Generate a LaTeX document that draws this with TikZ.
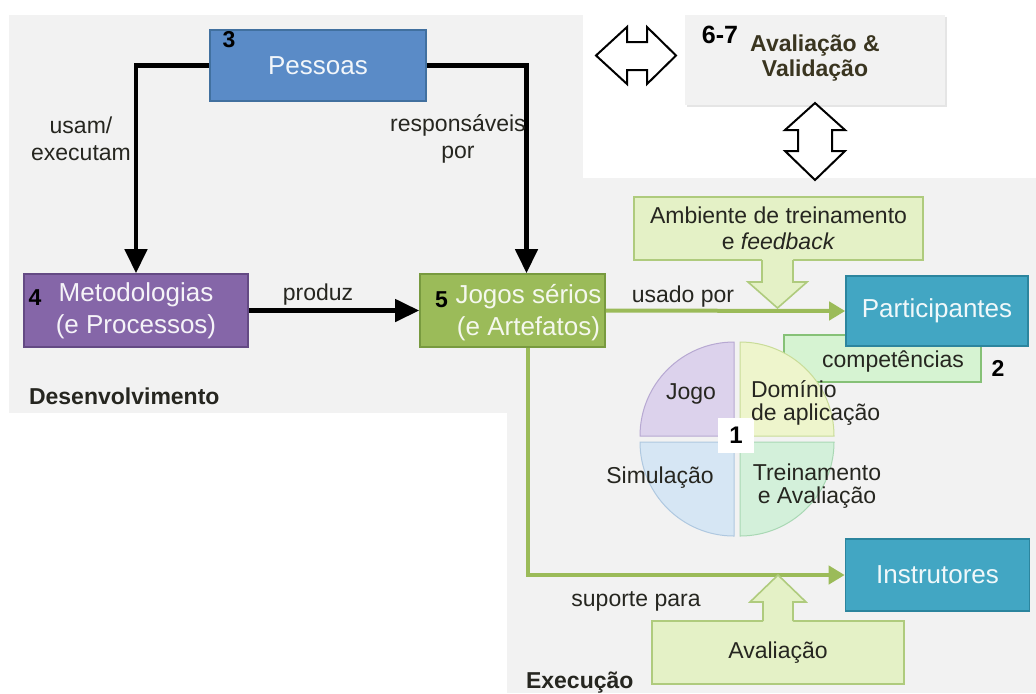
\documentclass[tikz,border=0pt]{standalone}
\usepackage{fontspec}
\setmainfont{Liberation Sans}
\usepackage{tikz}
\usetikzlibrary{positioning,calc,arrows.meta}

\definecolor{bgGray}{HTML}{F2F2F2}
\definecolor{pessBlue}{HTML}{5A8BC7}
\definecolor{pessEdge}{HTML}{41709F}
\definecolor{metPurple}{HTML}{8566A8}
\definecolor{metEdge}{HTML}{644A84}
\definecolor{jogGreen}{HTML}{9BBB59}
\definecolor{jogEdge}{HTML}{789A3F}
\definecolor{partTeal}{HTML}{42A6C3}
\definecolor{partEdge}{HTML}{2C859E}
\definecolor{lightGreen}{HTML}{E4F1C6}
\definecolor{lightEdge}{HTML}{AFCB7D}
\definecolor{compFill}{HTML}{D6F3D2}
\definecolor{compEdge}{HTML}{86C177}
\definecolor{darkText}{HTML}{262620}
\definecolor{oliveText}{HTML}{3A3520}
\definecolor{jogoFill}{HTML}{DCD2EC}
\definecolor{jogoEdge}{HTML}{B7A8D2}
\definecolor{domFill}{HTML}{EEF5CC}
\definecolor{domEdge}{HTML}{C9DC98}
\definecolor{simFill}{HTML}{D6E6F4}
\definecolor{simEdge}{HTML}{AFC8E0}
\definecolor{treFill}{HTML}{D3F0DA}
\definecolor{treEdge}{HTML}{A9D8B4}

\begin{document}
\begin{tikzpicture}[x=0.5pt,y=-0.5pt,
    box/.style={draw, line width=0.8pt, inner sep=0pt},
    lbl/.style={font=\fontsize{11.5}{13.5}\selectfont, align=center, text=darkText},
    big/.style={font=\fontsize{13}{16}\selectfont, align=center},
    num/.style={font=\bfseries\fontsize{11.5}{13}\selectfont, text=black},
    flow/.style={line width=2.2pt, -{Triangle[length=12pt,width=11pt]}},
    use/.style={jogGreen, line width=2pt, -{Triangle[length=8pt,width=9pt]}},
    blockarrow/.style={lightEdge, line width=0.8pt}]
    \useasboundingbox (0,0) rectangle (1036,693);

    % regions
    \fill[bgGray] (9,15) rectangle (583,413);
    \fill[bgGray] (507,178) rectangle (1036,693);
    \node[lbl, font=\bfseries\fontsize{11.5}{13}\selectfont, anchor=west] (desenv) at (22,396) {Desenvolvimento};
    \node[lbl, font=\bfseries\fontsize{11.5}{13}\selectfont, anchor=base west] (exec) at (519,688) {Execução};

    % avaliacao e validacao
    \fill[black!10] (687,17) rectangle (947,107);
    \node[fill=bgGray, minimum width=130pt, minimum height=45pt, inner sep=0pt] (aval) at (815,60) {};
    \node[num, font=\bfseries\fontsize{12.5}{14}\selectfont] (n67) at (720,35) {6-7};
    \node[lbl, font=\bfseries\fontsize{11.5}{12.5}\selectfont, text=oliveText] (avaltxt) at (815,58) {Avaliação \&\\Validação};
    \draw[line width=1pt, fill=white] (596,55.5) -- (627,27) -- (627,42) -- (647,42) -- (647,27) -- (676,55.5)
        -- (647,84) -- (647,70) -- (627,70) -- (627,84) -- cycle;
    \draw[line width=1pt, fill=white] (815,103) -- (845,130) -- (832,130) -- (832,151) -- (845,151) -- (815,180)
        -- (785,151) -- (798,151) -- (798,130) -- (785,130) -- cycle;

    % desenvolvimento
    \node[box, fill=pessBlue, draw=pessEdge, minimum width=108pt, minimum height=35.5pt, big, text=white!92!pessBlue] (pessoas) at (318,65.5) {Pessoas};
    \node[num] (n3) at (229,40) {3};
    \node[box, fill=metPurple, draw=metEdge, minimum width=112pt, minimum height=36.5pt, big, text=white!92!metPurple] (metod) at (136,310.5) {Metodologias\\(e Processos)};
    \node[num] (n4) at (35,297.5) {4};
    \node[box, fill=jogGreen, draw=jogEdge, minimum width=92.5pt, minimum height=36.5pt] (jogos) at (512.5,310.5) {};
    \node[big, text=white!90!jogGreen] (jogtxt) at (528.5,313) {Jogos sérios\\(e Artefatos)};
    \node[num] (n5) at (441.5,299.5) {5};

    \draw[flow] (pessoas.west) -| (metod.north);
    \draw[flow] (pessoas.east) -| ([xshift=7pt]jogos.north);
    \draw[flow] (metod.east) -- (jogos.west);
    \node[lbl] (usam) at (81,138.5) {usam/\\executam};
    \node[lbl] (resp) at (458,138.5) {responsáveis\\por};
    \node[lbl] (produz) at (318,295) {produz};

    % execucao
    \node[box, fill=compFill, draw=compEdge, minimum width=98.5pt, minimum height=23.5pt] (comp) at (882.5,358.5) {};
    \node[lbl] (comptxt) at (893,361) {competências};
    \node[num] (n2) at (998,368) {2};
    \node[box, fill=partTeal, draw=partEdge, minimum width=91pt, minimum height=35pt, big, text=white!92!partTeal] (part) at (937,311) {Participantes};
    \node[box, fill=partTeal, draw=partEdge, minimum width=92pt, minimum height=36pt, big, text=white!92!partTeal] (instr) at (937.5,575) {Instrutores};

    \node[box, fill=lightGreen, draw=lightEdge, minimum width=144.5pt, minimum height=31.5pt, lbl, font=\fontsize{11.5}{13}\selectfont] (amb) at (778.5,228.5) {Ambiente de treinamento\\e \textit{feedback}};
    \node[box, fill=lightGreen, draw=lightEdge, minimum width=126pt, minimum height=31.5pt, lbl] (avalb) at (778,652.5) {Avaliação};

    \draw[use] (jogos.east) -- (part.west);
    \draw[use] ([xshift=7.75pt]jogos.south) |- (instr.west);
    \node[lbl] (usado) at (683,297) {usado por};
    \node[lbl] (suporte) at (636,601) {suporte para};

    % block arrows
    \fill[lightGreen] (762,258.5) -- (762,282) -- (748,282) -- (777.5,308) -- (807,282) -- (793,282) -- (793,258.5) -- cycle;
    \draw[blockarrow] (762,260) -- (762,282) -- (748,282) -- (777.5,308) -- (807,282) -- (793,282) -- (793,260);
    \fill[lightGreen] (763,622.5) -- (763,602) -- (750,602) -- (778,575) -- (806,602) -- (793,602) -- (793,622.5) -- cycle;
    \draw[blockarrow] (763,621) -- (763,602) -- (750,602) -- (778,575) -- (806,602) -- (793,602) -- (793,621);

    % ciclo
    \coordinate (C) at (737,439);
    \filldraw[fill=jogoFill, draw=jogoEdge, line width=0.5pt] ($(C)+(-3,-3)$) -- ++(-94,0) arc[start angle=180, end angle=270, radius=94] -- cycle;
    \filldraw[fill=domFill, draw=domEdge, line width=0.5pt] ($(C)+(3,-3)$) -- ++(0,-94) arc[start angle=270, end angle=360, radius=94] -- cycle;
    \filldraw[fill=treFill, draw=treEdge, line width=0.5pt] ($(C)+(3,3)$) -- ++(94,0) arc[start angle=0, end angle=90, radius=94] -- cycle;
    \filldraw[fill=simFill, draw=simEdge, line width=0.5pt] ($(C)+(-3,3)$) -- ++(0,94) arc[start angle=90, end angle=180, radius=94] -- cycle;
    \node[fill=white, minimum width=18pt, minimum height=17.5pt, inner sep=0pt, font=\bfseries\fontsize{12}{14}\selectfont] (n1) at (736,435) {1};
    \node[lbl] (jogo) at (691,394) {Jogo};
    \node[lbl, align=left, anchor=west, font=\fontsize{11.5}{11.5}\selectfont] (dominio) at (744,403) {Domínio\\de aplicação};
    \node[lbl] (simul) at (660,478) {Simulação};
    \node[lbl, font=\fontsize{11.5}{11.5}\selectfont] (trein) at (817,486) {Treinamento\\e Avaliação};
\end{tikzpicture}
\end{document}
